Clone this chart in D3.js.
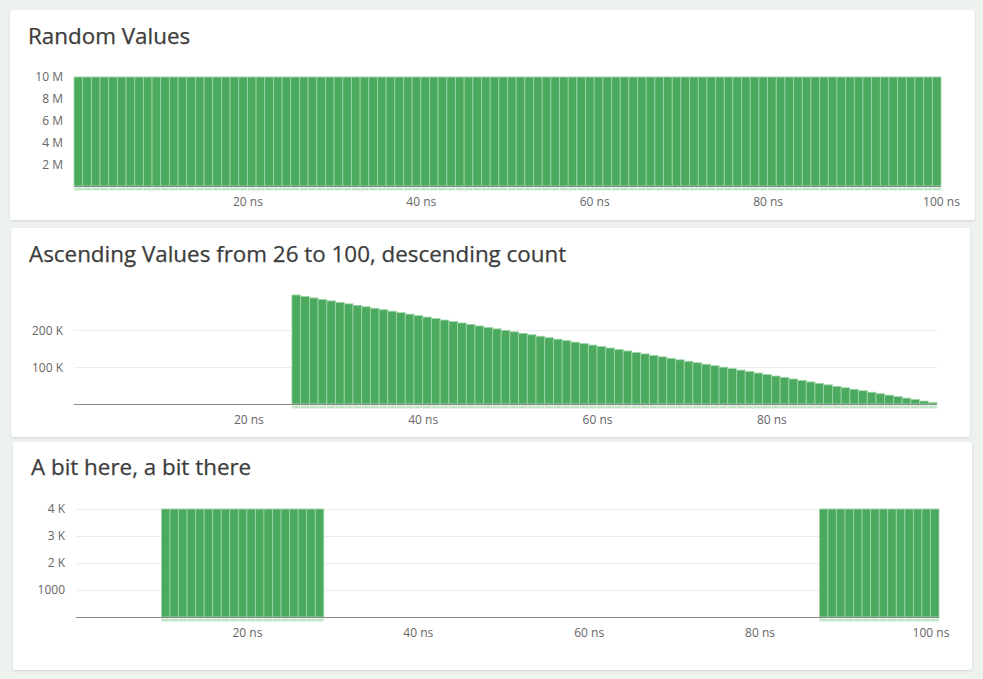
<!DOCTYPE html>
<html>
<head>
<meta charset="utf-8">
<script src="https://cdn.jsdelivr.net/npm/d3@7"></script>
<style>
  html, body { margin: 0; padding: 0; background: #edf2ef; }
  svg { display: block; }
  text { font-family: "Open Sans", "Noto Sans", sans-serif; }
</style>
</head>
<body>
<svg id="chart" width="983" height="679"></svg>
<script>
// ---------- DATA ----------
const titles = [
  "Random Values",
  "Ascending Values from 26 to 100, descending count",
  "A bit here, a bit there"
];

// Panel 1: 100 bins (1 ns wide) starting at 0..99
const randomBinStarts = [0,1,2,3,4,5,6,7,8,9,10,11,12,13,14,15,16,17,18,19,20,21,22,23,24,25,26,27,28,29,30,31,32,33,34,35,36,37,38,39,40,41,42,43,44,45,46,47,48,49,50,51,52,53,54,55,56,57,58,59,60,61,62,63,64,65,66,67,68,69,70,71,72,73,74,75,76,77,78,79,80,81,82,83,84,85,86,87,88,89,90,91,92,93,94,95,96,97,98,99];
const randomCounts = [10000000,10000000,10000000,10000000,10000000,10000000,10000000,10000000,10000000,10000000,
  10000000,10000000,10000000,10000000,10000000,10000000,10000000,10000000,10000000,10000000,
  10000000,10000000,10000000,10000000,10000000,10000000,10000000,10000000,10000000,10000000,
  10000000,10000000,10000000,10000000,10000000,10000000,10000000,10000000,10000000,10000000,
  10000000,10000000,10000000,10000000,10000000,10000000,10000000,10000000,10000000,10000000,
  10000000,10000000,10000000,10000000,10000000,10000000,10000000,10000000,10000000,10000000,
  10000000,10000000,10000000,10000000,10000000,10000000,10000000,10000000,10000000,10000000,
  10000000,10000000,10000000,10000000,10000000,10000000,10000000,10000000,10000000,10000000,
  10000000,10000000,10000000,10000000,10000000,10000000,10000000,10000000,10000000,10000000,
  10000000,10000000,10000000,10000000,10000000,10000000,10000000,10000000,10000000,10000000];

// Panel 2: bins starting at 25..98
const ascBinStarts = [25,26,27,28,29,30,31,32,33,34,35,36,37,38,39,40,41,42,43,44,45,46,47,48,49,50,51,52,53,54,55,56,57,58,59,60,61,62,63,64,65,66,67,68,69,70,71,72,73,74,75,76,77,78,79,80,81,82,83,84,85,86,87,88,89,90,91,92,93,94,95,96,97,98];
const ascCounts = [296000,292000,288000,284000,280000,276000,272000,268000,264000,260000,
  256000,252000,248000,244000,240000,236000,232000,228000,224000,220000,
  216000,212000,208000,204000,200000,196000,192000,188000,184000,180000,
  176000,172000,168000,164000,160000,156000,152000,148000,144000,140000,
  136000,132000,128000,124000,120000,116000,112000,108000,104000,100000,
  96000,92000,88000,84000,80000,76000,72000,68000,64000,60000,
  56000,52000,48000,44000,40000,36000,32000,28000,24000,20000,
  16000,12000,8000,4000];

// Panel 3: two groups
const bitBinStarts = [10,11,12,13,14,15,16,17,18,19,20,21,22,23,24,25,26,27,28,
  87,88,89,90,91,92,93,94,95,96,97,98,99,100];
const bitCounts = [4000,4000,4000,4000,4000,4000,4000,4000,4000,4000,4000,4000,4000,4000,4000,4000,4000,4000,4000,
  4000,4000,4000,4000,4000,4000,4000,4000,4000,4000,4000,4000,4000,4000];

const xDomains = [[0, 100], [0, 99], [0, 101]];
const yMaxes = [10000000, 296000, 4000];
const xTickValues = [[20, 40, 60, 80, 100], [20, 40, 60, 80], [20, 40, 60, 80, 100]];
const xTickLabels = [["20 ns", "40 ns", "60 ns", "80 ns", "100 ns"], ["20 ns", "40 ns", "60 ns", "80 ns"], ["20 ns", "40 ns", "60 ns", "80 ns", "100 ns"]];
const yTickValues = [[2000000, 4000000, 6000000, 8000000, 10000000], [100000, 200000], [1000, 2000, 3000, 4000]];
const yTickLabels = [["2 M", "4 M", "6 M", "8 M", "10 M"], ["100 K", "200 K"], ["1000", "2 K", "3 K", "4 K"]];

// ---------- LAYOUT ----------
const panels = [
  { card: {x: 10, y: 10, w: 965, h: 210}, titleY: 44, px: [74, 941], py: [186, 77], starts: randomBinStarts, counts: randomCounts },
  { card: {x: 11, y: 228, w: 959, h: 209}, titleY: 262, px: [74, 937], py: [404, 295], starts: ascBinStarts, counts: ascCounts },
  { card: {x: 13, y: 442, w: 959, h: 228}, titleY: 475, px: [76, 939], py: [617, 509], starts: bitBinStarts, counts: bitCounts }
];

const svg = d3.select("#chart");
const defs = svg.append("defs");
const f = defs.append("filter").attr("id", "shadow").attr("x", "-5%").attr("y", "-5%").attr("width", "110%").attr("height", "115%");
f.append("feDropShadow").attr("dx", 0).attr("dy", 1).attr("stdDeviation", 1.2).attr("flood-color", "#000").attr("flood-opacity", 0.12);

panels.forEach((p, i) => {
  const g = svg.append("g");
  g.append("rect")
    .attr("x", p.card.x).attr("y", p.card.y)
    .attr("width", p.card.w).attr("height", p.card.h)
    .attr("rx", 3).attr("fill", "#fff")
    .attr("filter", "url(#shadow)");

  g.append("text")
    .attr("x", p.card.x + 18).attr("y", p.titleY)
    .attr("font-size", 22.4).attr("fill", "#3c3c3c")
    .attr("stroke", "#3c3c3c").attr("stroke-width", 0.25)
    .text(titles[i]);

  const x = d3.scaleLinear().domain(xDomains[i]).range(p.px);
  const y = d3.scaleLinear().domain([0, yMaxes[i]]).range(p.py);

  // gridlines
  g.append("g").selectAll("line").data(yTickValues[i]).join("line")
    .attr("x1", p.px[0]).attr("x2", p.px[1])
    .attr("y1", d => Math.round(y(d)) + 0.5).attr("y2", d => Math.round(y(d)) + 0.5)
    .attr("stroke", "#ececec").attr("stroke-width", 1);

  // y labels
  const yAxis = d3.axisLeft(y).tickValues(yTickValues[i])
    .tickFormat((d, k) => yTickLabels[i][k]).tickSize(0).tickPadding(0);
  const ya = g.append("g").attr("transform", `translate(${p.px[0] - 11},0)`).call(yAxis);
  ya.select(".domain").remove();
  ya.selectAll("text").attr("font-size", 12).attr("fill", "#666")
    .attr("font-family", "\"Open Sans\", \"Noto Sans\", sans-serif");

  // bars
  const bars = p.starts.map((s, k) => ({ x0: s, x1: s + 1, c: p.counts[k] }));
  g.append("g").selectAll("rect").data(bars).join("rect")
    .attr("x", d => x(d.x0))
    .attr("width", d => x(d.x1) - x(d.x0))
    .attr("y", d => y(d.c))
    .attr("height", d => y(0) - y(d.c))
    .attr("fill", "#4caa5e")
    .attr("stroke", "#9fd6a9")
    .attr("stroke-width", 0.8);

  // light strip below axis
  g.append("g").selectAll("rect").data(bars).join("rect")
    .attr("x", d => x(d.x0))
    .attr("width", d => x(d.x1) - x(d.x0))
    .attr("y", y(0) + 1.5)
    .attr("height", 3)
    .attr("fill", "#c3e6c9")
    .attr("stroke", "#e4f4e7")
    .attr("stroke-width", 0.6);

  // x axis line
  g.append("line")
    .attr("x1", p.px[0]).attr("x2", p.px[1])
    .attr("y1", y(0) + 0.5).attr("y2", y(0) + 0.5)
    .attr("stroke", "#8a8a8a").attr("stroke-width", 1.2);

  // x labels
  const xAxis = d3.axisBottom(x).tickValues(xTickValues[i])
    .tickFormat((d, k) => xTickLabels[i][k]).tickSize(0).tickPadding(0);
  const xa = g.append("g").attr("transform", `translate(0,${y(0) + 11})`).call(xAxis);
  xa.select(".domain").remove();
  xa.selectAll("text").attr("font-size", 12).attr("fill", "#666")
    .attr("font-family", "\"Open Sans\", \"Noto Sans\", sans-serif");
});
</script>
</body>
</html>
